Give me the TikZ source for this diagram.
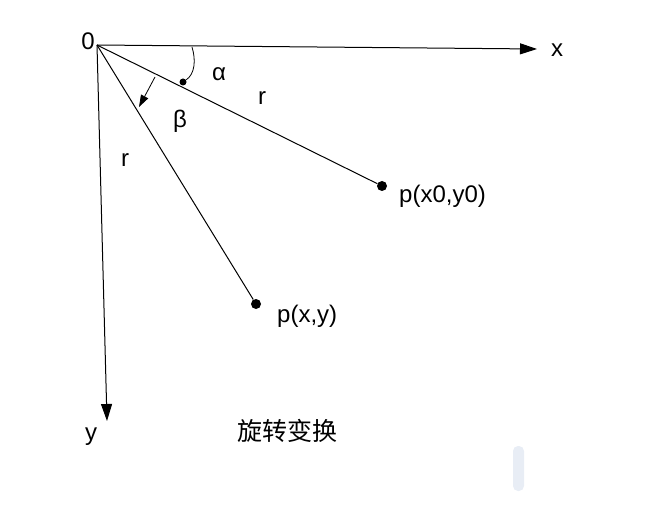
\documentclass[tikz,border=0pt]{standalone}
\usepackage{fontspec}
\setmainfont{Liberation Sans}
\newfontfamily\cjk{Noto Sans CJK SC}
\usetikzlibrary{positioning,arrows.meta,calc}
\definecolor{barcol}{RGB}{232,237,245}

\begin{document}
\begin{tikzpicture}[x=1pt, y=-1pt, >={Triangle[length=17pt,width=11pt]},
lbl/.style={inner sep=0, font=\fontsize{24}{28}\selectfont},
dot/.style={circle, fill=black, inner sep=0, minimum size=10pt},
smalldot/.style={circle, fill=black, inner sep=0, minimum size=7pt}
]
\useasboundingbox (0,0) rectangle (651,508);

\coordinate (O) at (97,45);
\coordinate (xend) at (537,49);
\coordinate (yend) at (107,421);
\node (p0) [dot] at (382,186) {};
\node (p) [dot] at (256,304) {};

% axes
\draw[->, line width=1pt] (O) -- (xend);
\draw[->, line width=1pt] (O) -- (yend);
\node (xl) [lbl] at (557,50) {x};
\node (yl) [lbl] at (91,437) {y};
\node (ol) [lbl] at (88,41) {0};

% radii
\draw[line width=1pt] (O) -- (p0);
\draw[line width=1pt] (O) -- (p);
\node (lp0) [lbl, anchor=base west] at (399,202) {p(x0,y0)};
\node (lp) [lbl, anchor=base west] at (277,322) {p(x,y)};
\node (r1) [lbl] at (262,98) {r};
\node (r2) [lbl] at (125,160) {r};

% angles
\node (adot) [smalldot] at (183,82) {};
\coordinate (acut) at (192,47);
\draw[line width=0.8pt] (adot) .. controls (195,74) and (196,60) .. (acut);
\node (al) [lbl] at (219,74) {α};
\coordinate (b0) at (155,77);
\coordinate (b1) at (139,107);
\draw[-{Triangle[length=12pt,width=8pt]}, line width=0.8pt] (b0) -- (b1);
\node (bl) [lbl] at (180,121) {β};

\node (title) [lbl, font=\fontsize{25}{29}\cjk] at (287,431) {旋转变换};

\fill[barcol, rounded corners=5pt] (513,446) rectangle (524,491);
\end{tikzpicture}
\end{document}
